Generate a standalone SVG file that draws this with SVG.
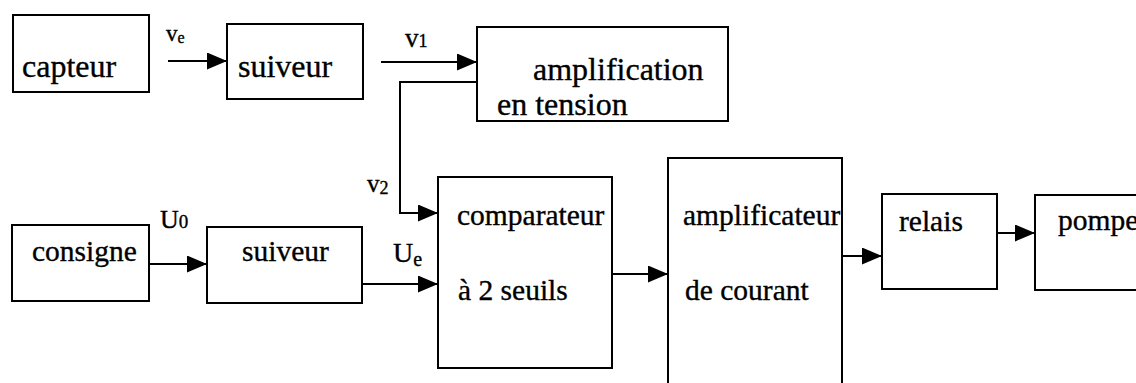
<svg xmlns="http://www.w3.org/2000/svg" width="1136" height="383" viewBox="0 0 1136 383">
<style>
.box{fill:#fff;stroke:#000;stroke-width:2}
text{font-family:"Liberation Serif","Times New Roman",serif;fill:#000;stroke:#000;stroke-width:0.35}
.t1{font-size:32px}
.t2{font-size:29.5px}
.c{fill:none;stroke:#000;stroke-width:2}
</style>
<defs>
<marker id="ah" markerUnits="userSpaceOnUse" markerWidth="21" markerHeight="18" refX="20" refY="8.5" orient="auto">
<path d="M0,0 L20,8.5 L0,17 z" fill="#000"/>
</marker>
</defs>
<g id="capteur"><rect class="box" x="13" y="15" width="136" height="77"/><text class="t1" x="22" y="77">capteur</text></g>
<g id="suiveur1"><rect class="box" x="227" y="24" width="136" height="75"/><text class="t1" x="238" y="77">suiveur</text></g>
<g id="amplification"><rect class="box" x="477" y="27" width="251" height="94"/><text class="t1" x="533" y="80">amplification</text><text class="t1" x="497" y="115">en tension</text></g>
<g id="consigne"><rect class="box" x="12" y="225" width="137" height="76"/><text class="t2" x="32" y="261">consigne</text></g>
<g id="suiveur2"><rect class="box" x="207" y="227" width="155" height="76"/><text class="t2" x="242" y="261">suiveur</text></g>
<g id="comparateur"><rect class="box" x="438" y="177" width="174" height="191"/><text class="t2" x="457" y="225">comparateur</text><text class="t2" x="458" y="300">à 2 seuils</text></g>
<g id="amplificateur"><rect class="box" x="668" y="158" width="174" height="240"/><text class="t2" x="683" y="225">amplificateur</text><text class="t2" x="685" y="300">de courant</text></g>
<g id="relais"><rect class="box" x="882" y="194" width="115" height="95"/><text class="t2" x="899" y="231">relais</text></g>
<g id="pompe"><rect class="box" x="1035" y="195" width="120" height="95"/><text class="t2" x="1058" y="230">pompe</text></g>
<g id="connectors">
<line class="c" x1="168" y1="61" x2="227" y2="61" marker-end="url(#ah)"/>
<line class="c" x1="381" y1="62" x2="477" y2="62" marker-end="url(#ah)"/>
<polyline class="c" points="477,82 400,82 400,213 438,213" marker-end="url(#ah)"/>
<line class="c" x1="149" y1="264" x2="207" y2="264" marker-end="url(#ah)"/>
<line class="c" x1="362" y1="284" x2="438" y2="284" marker-end="url(#ah)"/>
<line class="c" x1="612" y1="274" x2="668" y2="274" marker-end="url(#ah)"/>
<line class="c" x1="842" y1="256" x2="882" y2="256" marker-end="url(#ah)"/>
<line class="c" x1="997" y1="233" x2="1035" y2="233" marker-end="url(#ah)"/>
</g>
<g id="labels">
<text x="166" y="41" font-size="23">v<tspan font-size="16" dy="2">e</tspan></text>
<text x="405" y="47" font-size="27">v<tspan font-size="18">1</tspan></text>
<text x="367" y="192" font-size="25">v<tspan font-size="18" dy="2">2</tspan></text>
<text x="160" y="228" font-size="26">U<tspan font-size="19">0</tspan></text>
<text x="393" y="262" font-size="28">U<tspan font-size="20" dy="4">e</tspan></text>
</g>
</svg>
